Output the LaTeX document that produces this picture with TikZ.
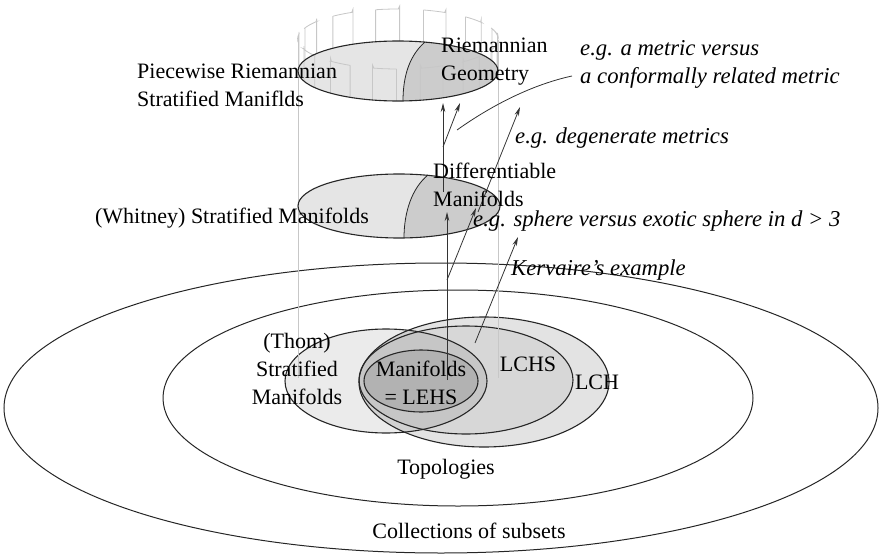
\documentclass[tikz,border=0pt]{standalone}
\usepackage{fontspec}
\setmainfont{Liberation Serif}
\usetikzlibrary{arrows.meta}
\begin{document}
\begin{tikzpicture}[x=1pt,y=-1pt,
  lbl/.style={inner sep=0pt, font=\fontsize{22}{28}\selectfont},
  ilbl/.style={inner sep=0pt, font=\fontsize{22.7}{28.5}\selectfont\itshape},
  setline/.style={line width=1.1pt, draw=black!85},
  bigline/.style={line width=1pt, draw=black!85},
  cyl/.style={draw=black!22, line width=0.8pt},
  arr/.style={draw=black!80, line width=0.8pt, -{Stealth[length=9pt,width=4.5pt]}},
]
\useasboundingbox (0,0) rectangle (882,556);

% ---- lower Venn diagram fills
\fill[black, fill opacity=0.11] (484,382) ellipse [x radius=125, y radius=65];
\fill[black, fill opacity=0.05] (466,380) ellipse [x radius=107, y radius=54];
\fill[black, fill opacity=0.08] (386,381) ellipse [x radius=101, y radius=52];
\fill[black, fill opacity=0.10] (421,381) ellipse [x radius=57, y radius=31];

% ---- outlines
\draw[bigline] (441,408) ellipse [x radius=437, y radius=145];
\draw[bigline] (458,398) ellipse [x radius=295, y radius=108];
\draw[setline] (484,382) ellipse [x radius=125, y radius=65];
\draw[setline] (466,380) ellipse [x radius=107, y radius=54];
\draw[setline] (386,381) ellipse [x radius=101, y radius=52];
\draw[setline] (421,381) ellipse [x radius=57, y radius=31];

% ---- cylinder sides
\draw[cyl] (298,71) -- (298,378);
\draw[cyl] (498,71) -- (498,378);

% ---- middle disc (differentiable)
\begin{scope}
  \clip (399,206) ellipse [x radius=101, y radius=32];
  \fill[gray!20] (290,170) rectangle (510,245);
  \fill[gray!40] (428,165) -- (428,175) .. controls (412,188) and (404,212) .. (404,238) -- (404,245) -- (510,245) -- (510,165) -- cycle;
\end{scope}
\draw[cyl] (298,190) -- (298,222);
\draw[setline, line width=0.8pt] (428,175) .. controls (412,188) and (404,212) .. (404,238);
\draw[setline] (399,206) ellipse [x radius=101, y radius=32];

% ---- top disc (Riemannian)
\begin{scope}
  \clip (398,71) ellipse [x radius=100, y radius=30];
  \fill[gray!20] (290,35) rectangle (510,110);
  \fill[gray!40] (425,30) -- (425,42) .. controls (410,55) and (403,75) .. (403,101) -- (403,110) -- (510,110) -- (510,30) -- cycle;
\end{scope}
% crown of the cylinder
\foreach \k in {0,...,12}{
  \pgfmathsetmacro\aa{257.08+\k*27.69}
  \pgfmathsetmacro\bb{\aa+13.85}
  \draw[cyl, rounded corners=3pt] ({398+100*cos(\aa)},{71+30*sin(\aa)}) -- ({398+100*cos(\aa)},{71+30*sin(\aa)-32})
     plot[domain=\aa:\bb, samples=7, smooth] ({398+100*cos(\x)},{71+30*sin(\x)-32})
     -- ({398+100*cos(\bb)},{71+30*sin(\bb)});
}
\draw[cyl] (298,71) -- (298,40);
\draw[cyl] (498,71) -- (498,40);
\draw[setline, line width=0.8pt] (425,42) .. controls (410,55) and (403,75) .. (403,101);
\draw[setline] (398,71) ellipse [x radius=100, y radius=30];

% ---- connectors
\coordinate (m0) at (447,380); \coordinate (d0) at (447,212);
\coordinate (mb) at (447,280); \coordinate (d1) at (476,208);
\coordinate (k0) at (475,343); \coordinate (k1) at (518,237);
\coordinate (d2) at (443,192); \coordinate (r0) at (443,103);
\coordinate (db) at (443,147); \coordinate (r1) at (460,103);
\coordinate (g0) at (478,212); \coordinate (g1) at (520,107);
\coordinate (c0) at (457,130); \coordinate (c1) at (572,76);
\draw[arr] (m0) -- (d0);
\draw[arr] (mb) -- (d1);
\draw[arr] (k0) -- (k1);
\draw[arr] (d2) -- (r0);
\draw[arr] (db) -- (r1);
\draw[arr] (g0) -- (g1);
\draw[draw=black!80, line width=0.8pt] (c0) .. controls (495,103) and (535,84) .. (c1);

% ---- labels (base anchor of a multi-line node = baseline of its last line)
\node[lbl, anchor=base west, align=left] (pw) at (137,107) {Piecewise Riemannian\\Stratified Maniflds};
\node[lbl, anchor=base east] (wh) at (369,223) {(Whitney) Stratified Manifolds};
\node[lbl, anchor=base west, align=left] (rg) at (441,81) {Riemannian\\Geometry};
\node[lbl, anchor=base west, align=left] (dm) at (433,206) {Differentiable\\Manifolds};
\node[ilbl, anchor=base west, align=left] (cf) at (580,84) {e.g. a metric versus\\a conformally related metric};
\node[ilbl, anchor=base west] (dg) at (515,143) {e.g. degenerate metrics};
\node[ilbl, anchor=base west] (sp) at (473,226) {e.g. sphere versus exotic sphere in d > 3};
\node[ilbl, anchor=base west] (kv) at (511,275) {Kervaire's example};
\node[lbl, anchor=base, align=center] (th) at (297,404) {(Thom)\\Stratified\\Manifolds};
\node[lbl, anchor=base, align=center] (mf) at (421,404) {Manifolds\\= LEHS};
\node[lbl, anchor=base] (lchs) at (528,371) {LCHS};
\node[lbl, anchor=base] (lch) at (597,389) {LCH};
\node[lbl, anchor=base] (tp) at (446,474) {Topologies};
\node[lbl, anchor=base] (cs) at (469,538) {Collections of subsets};
\end{tikzpicture}
\end{document}
